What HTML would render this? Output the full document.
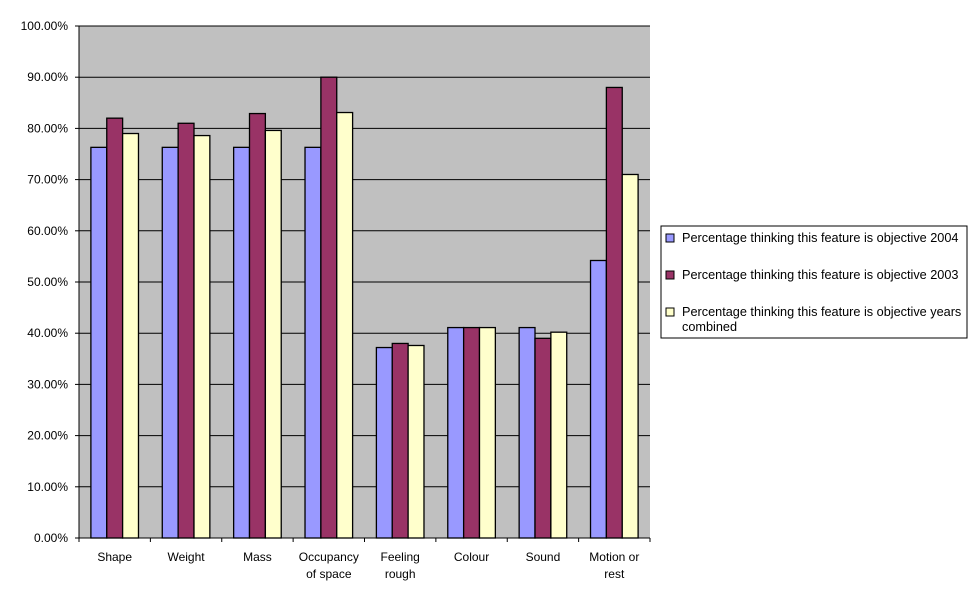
<!DOCTYPE html>
<html><head><meta charset="utf-8"><style>
body{margin:0;background:#fff;}
svg text{font-family:"Liberation Sans",Arial,sans-serif;font-size:12px;fill:#000;}
svg text.lg{font-size:12.7px;}
</style></head><body>
<svg width="977" height="600" xmlns="http://www.w3.org/2000/svg">
<rect x="79" y="26" width="571" height="512" fill="#c0c0c0"/>
<g id="grid"></g>
<g id="bars"></g>
<g id="axes"></g>
<g>
<rect x="661" y="226" width="306" height="112" fill="#fff" stroke="#000"/>
<rect x="666" y="234" width="8" height="8" fill="#9999ff" stroke="#000"/>
<text class="lg" x="682" y="242">Percentage thinking this feature is objective 2004</text>
<rect x="666" y="271" width="8" height="8" fill="#993366" stroke="#000"/>
<text class="lg" x="682" y="279">Percentage thinking this feature is objective 2003</text>
<rect x="666" y="308" width="8" height="8" fill="#ffffcc" stroke="#000"/>
<text class="lg" x="682" y="316">Percentage thinking this feature is objective years</text>
<text class="lg" x="682" y="331">combined</text>
</g>
</svg>
<script>
const categories=[["Shape"],["Weight"],["Mass"],["Occupancy","of space"],["Feeling","rough"],["Colour"],["Sound"],["Motion or","rest"]];
const s2004=[76.3,76.3,76.3,76.3,37.2,41.1,41.1,54.2];
const s2003=[82.0,81.0,82.9,90.0,38.0,41.1,39.0,88.0];
const sComb=[79.0,78.6,79.6,83.1,37.6,41.1,40.2,71.0];
const yTicks=[0,10,20,30,40,50,60,70,80,90,100];
const NS="http://www.w3.org/2000/svg";
const X0=79,X1=650,Y0=538,Y1=26;
function y(v){return Y0-(v/100)*(Y0-Y1);}
const cw=(X1-X0)/categories.length, bw=cw/4.5;
function mk(t,a,p){const e=document.createElementNS(NS,t);for(const k in a)e.setAttribute(k,a[k]);p.appendChild(e);return e;}
const grid=document.getElementById('grid'),bars=document.getElementById('bars'),axes=document.getElementById('axes');
yTicks.forEach(t=>{
 if(t>0){const l=mk('line',{x1:X0,x2:X1,y1:y(t),y2:y(t),stroke:'#000','stroke-width':1},grid);
 
 }
 const tk=mk('line',{x1:X0-4,x2:X0,y1:y(t),y2:y(t),stroke:'#000'},axes);
 
 
 const tx=mk('text',{x:X0-11,y:y(t)+4,'text-anchor':'end'},axes);tx.textContent=t.toFixed(2)+'%';
 
 
});
const series=[[s2004,'#9999ff'],[s2003,'#993366'],[sComb,'#ffffcc']];
categories.forEach((c,i)=>{
 const gx=X0+i*cw+0.75*bw;
 series.forEach((s,j)=>{
  const r=mk('rect',{x:gx+j*bw,y:y(s[0][i]),width:bw,height:Y0-y(s[0][i]),fill:s[1],stroke:'#000','stroke-width':1.3},bars);
  
  
 });
 const tk=mk('line',{x1:X0+i*cw,x2:X0+i*cw,y1:Y0,y2:Y0+4,stroke:'#000'},axes);
 
 
 c.forEach((ln,k)=>{
  const tx=mk('text',{x:X0+(i+0.5)*cw,y:561+k*17,'text-anchor':'middle'},axes);tx.textContent=ln;
  
  
 });
});
const lt=mk('line',{x1:X1,x2:X1,y1:Y0,y2:Y0+4,stroke:'#000'},axes);


const ya=mk('line',{x1:X0,x2:X0,y1:Y1,y2:Y0,stroke:'#000'},axes);


const xa=mk('line',{x1:X0,x2:X1,y1:Y0,y2:Y0,stroke:'#000'},axes);


</script>
</body></html>
